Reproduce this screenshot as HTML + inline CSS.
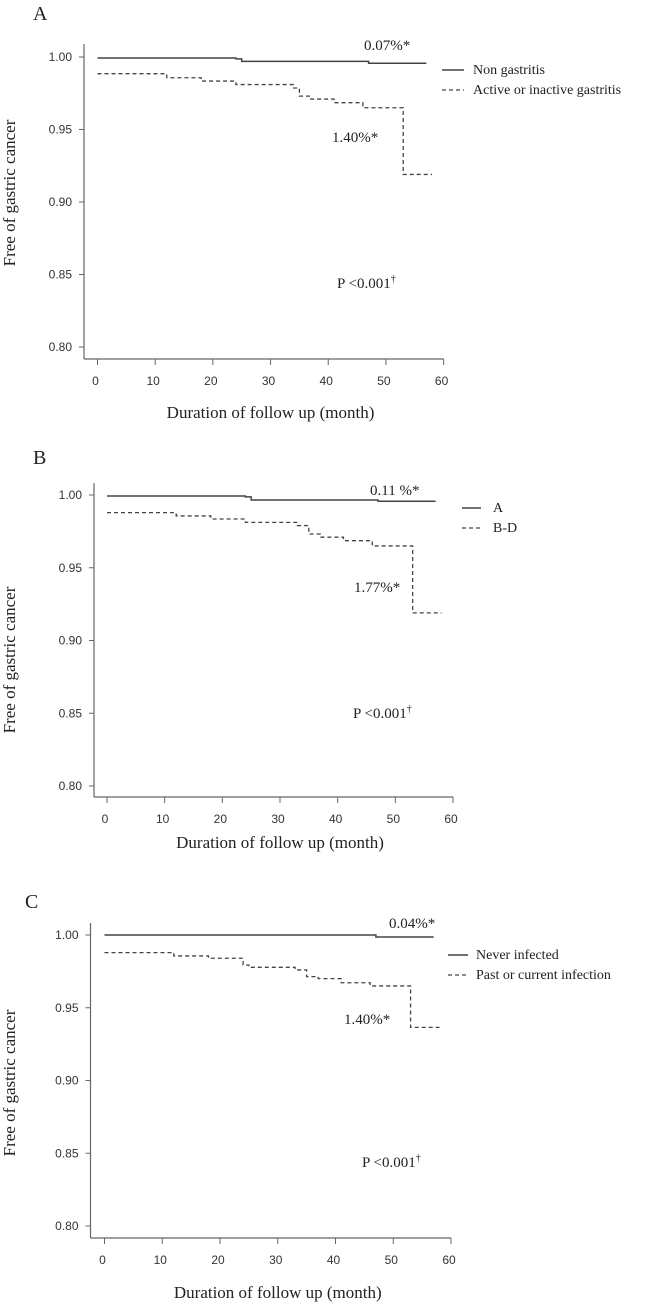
<!DOCTYPE html>
<html><head><meta charset="utf-8"><style>
html,body{margin:0;padding:0;background:#fff}
svg{display:block}
.t{font-family:"Liberation Sans",sans-serif;font-size:12px;fill:#333}
.s{font-family:"Liberation Serif",serif;fill:#222}
</style></head><body>
<svg id="fig" width="645" height="1305" viewBox="0 0 645 1305"></svg>
<script>
const xTicks=[0,10,20,30,40,50,60];
const yTicks=[0.80,0.85,0.90,0.95,1.00];
const yTickLabels=["0.80","0.85","0.90","0.95","1.00"];
// Panel A
const aSolidT=[0,24,25,47,57];
const aSolidS=[0.9993,0.9987,0.9970,0.9957,0.9957];
const aDashT=[0,12,18,24,34,35,37,41,46,53,58];
const aDashS=[0.9885,0.9857,0.9834,0.9810,0.9786,0.9730,0.9710,0.9685,0.9650,0.9190,0.9190];
// Panel B
const bSolidT=[0,24,25,47,57];
const bSolidS=[0.9993,0.9987,0.9966,0.9957,0.9957];
const bDashT=[0,12,18,24,33,35,37,41,46,53,58];
const bDashS=[0.9879,0.9856,0.9835,0.9812,0.9790,0.9732,0.9710,0.9686,0.9650,0.9190,0.9190];
// Panel C
const cSolidT=[0,47,57];
const cSolidS=[1.0000,0.9986,0.9986];
const cDashT=[0,12,18,24,25,33,35,37,41,46,53,58];
const cDashS=[0.9879,0.9856,0.9840,0.9794,0.9778,0.9760,0.9714,0.9700,0.9672,0.9650,0.9365,0.9365];

const NS="http://www.w3.org/2000/svg";
const svg=document.getElementById('fig');
function mk(tag,attrs,parent,text){const e=document.createElementNS(NS,tag);for(const k in attrs)e.setAttribute(k,attrs[k]);if(text!==undefined)e.textContent=text;(parent||svg).appendChild(e);return e;}

function panel(p){
  const g=mk('g',{});
  
  
  const X=t=>p.x0+(t/60)*(p.x60-p.x0);
  const Y=v=>p.y100+(1-v)/0.2*(p.y80-p.y100);
  const lab=mk('text',{x:p.labX,y:p.labY,class:'s','font-size':20},g,p.id);
  
  
  const ya=mk('line',{x1:p.ax,y1:p.ytop,x2:p.ax,y2:p.xay,stroke:'#666','stroke-width':1.2},g);
  
  
  const xa=mk('line',{x1:p.ax,y1:p.xay,x2:X(60),y2:p.xay,stroke:'#666','stroke-width':1.2},g);
  
  
  yTicks.forEach((v,i)=>{
    mk('line',{x1:p.ax-5,y1:Y(v),x2:p.ax,y2:Y(v),stroke:'#666'},g);
    const t=mk('text',{x:p.ax-12,y:Y(v)+4,class:'t','text-anchor':'end'},g,yTickLabels[i]);
    
    
  });
  xTicks.forEach(v=>{
    mk('line',{x1:X(v),y1:p.xay,x2:X(v),y2:p.xay+6,stroke:'#666'},g);
    const t=mk('text',{x:X(v)-2,y:p.xay+26,class:'t','text-anchor':'middle'},g,String(v));
    
    
  });
  const xt=mk('text',{x:(X(0)+X(60))/2,y:p.xtitleY,class:'s','font-size':17,'text-anchor':'middle'},g,'Duration of follow up (month)');
  
  
  const yt=mk('text',{x:0,y:0,class:'s','font-size':17,'text-anchor':'middle',transform:`translate(15,${p.ytitleY}) rotate(-90)`},g,'Free of gastric cancer');
  
  
  function step(T,S){let d=`M${X(T[0])},${Y(S[0])}`;for(let i=1;i<T.length;i++){d+=` H${X(T[i])} V${Y(S[i])}`;}return d;}
  const sl=mk('path',{d:step(p.sT,p.sS),fill:'none',stroke:'#444','stroke-width':1.5},g);
  
  
  const dl=mk('path',{d:step(p.dT,p.dS),fill:'none',stroke:'#444','stroke-width':1.3,'stroke-dasharray':'4,3'},g);
  
  
  const l1=mk('line',{x1:p.legX1,y1:p.leg1Y,x2:p.legX2,y2:p.leg1Y,stroke:'#444','stroke-width':1.5},g);
  
  
  const l1t=mk('text',{x:p.legTX,y:p.leg1Y+4,class:'s','font-size':14},g,p.leg1);
  
  
  const l2=mk('line',{x1:p.legX1,y1:p.leg2Y,x2:p.legX2,y2:p.leg2Y,stroke:'#444','stroke-width':1.3,'stroke-dasharray':'4,3'},g);
  
  
  const l2t=mk('text',{x:p.legTX,y:p.leg2Y+4,class:'s','font-size':14},g,p.leg2);
  
  
  const a1=mk('text',{x:p.a1[0],y:p.a1[1],class:'s','font-size':15},g,p.a1[2]);
  
  
  const a2=mk('text',{x:p.a2[0],y:p.a2[1],class:'s','font-size':15},g,p.a2[2]);
  
  
  const pv=mk('text',{x:p.pv[0],y:p.pv[1],class:'s','font-size':15},g,'P <0.001');
  
  
  mk('tspan',{'font-size':10,dy:-6},pv,'†');
}

panel({id:'A',labX:33,labY:20,ax:84,ytop:44,xay:359,x0:97.5,x60:443.6,y100:57,y80:347,xtitleY:418,ytitleY:193,
  sT:aSolidT,sS:aSolidS,dT:aDashT,dS:aDashS,legX1:442,legX2:464,legTX:473,leg1Y:70,leg2Y:90,
  leg1:'Non gastritis',leg2:'Active or inactive gastritis',a1:[364,50,'0.07%*'],a2:[332,142,'1.40%*'],pv:[337,288]});
panel({id:'B',labX:33,labY:464,ax:94,ytop:483,xay:797,x0:107,x60:453,y100:495,y80:786,xtitleY:848,ytitleY:660,
  sT:bSolidT,sS:bSolidS,dT:bDashT,dS:bDashS,legX1:462,legX2:481,legTX:493,leg1Y:508,leg2Y:528,
  leg1:'A',leg2:'B-D',a1:[370,495,'0.11 %*'],a2:[354,592,'1.77%*'],pv:[353,718]});
panel({id:'C',labX:25,labY:908,ax:90.5,ytop:923,xay:1238,x0:104.5,x60:451,y100:935,y80:1226,xtitleY:1298,ytitleY:1083,
  sT:cSolidT,sS:cSolidS,dT:cDashT,dS:cDashS,legX1:448,legX2:468,legTX:476,leg1Y:955,leg2Y:975,
  leg1:'Never infected',leg2:'Past or current infection',a1:[389,928,'0.04%*'],a2:[344,1024,'1.40%*'],pv:[362,1167]});
</script>
</body></html>
